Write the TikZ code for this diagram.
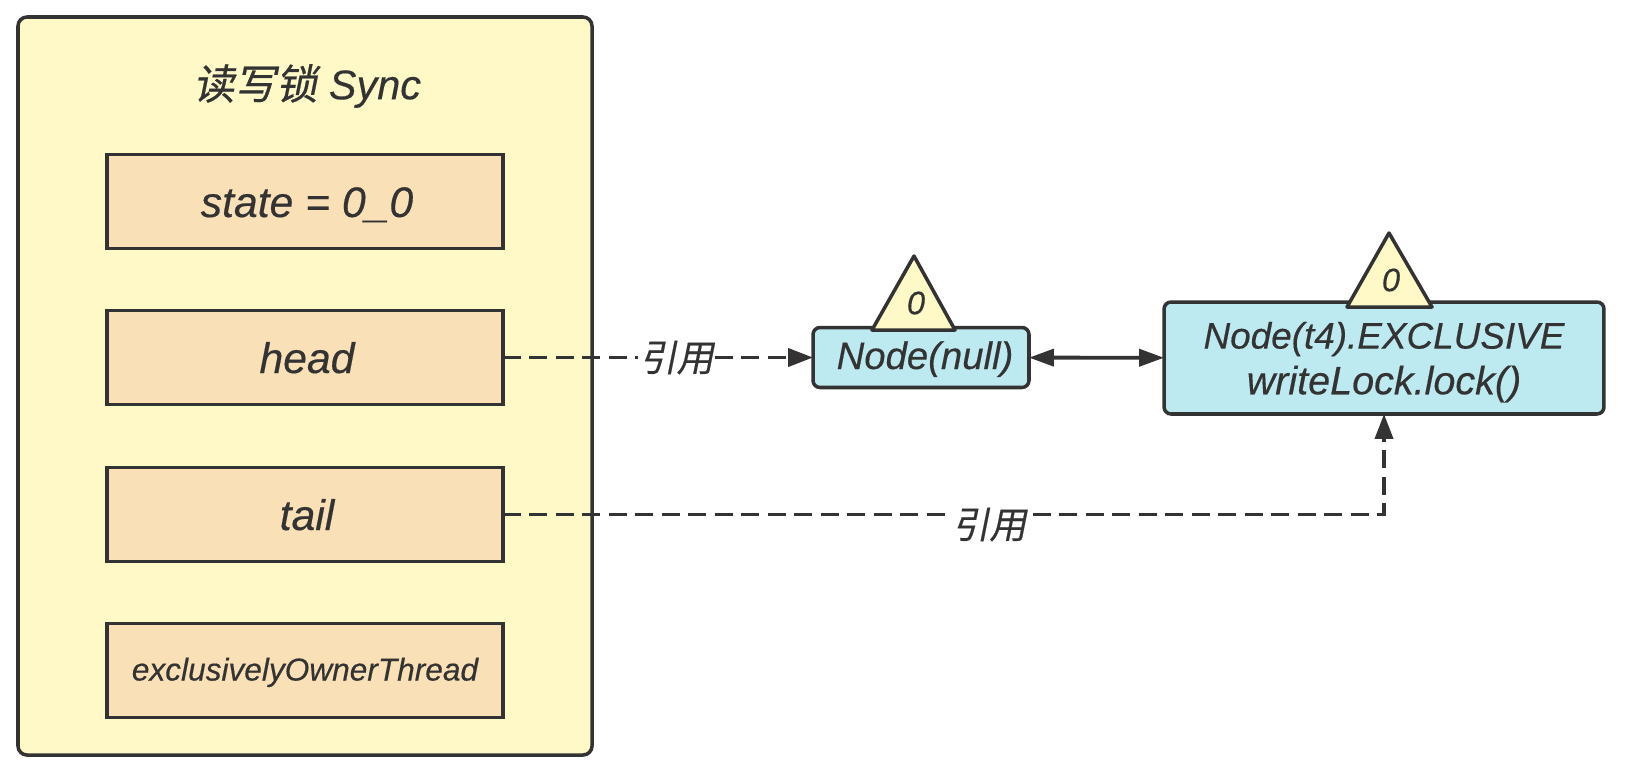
\documentclass[tikz,border=0pt]{standalone}
\usepackage{fontspec}
\setmainfont[ItalicFeatures={FakeBold=0.35}]{Liberation Sans}
\newfontfamily\cjk[FakeSlant=0.2,FakeBold=0.5]{Noto Sans CJK SC}
\usetikzlibrary{arrows.meta}
\definecolor{inkgray}{HTML}{333333}
\definecolor{lockyellow}{HTML}{FFF9C8}
\definecolor{fieldorange}{HTML}{FAE0B6}
\definecolor{queueblue}{HTML}{BDE9F0}
\newcommand{\setsize}[1]{\fontsize{#1}{26}\selectfont\itshape}
\tikzset{
    every node/.style={text=inkgray, outer sep=0pt, inner sep=0pt},
    fieldbox/.style={draw=inkgray, line width=2pt, fill=fieldorange, minimum width=7.92cm, minimum height=1.88cm, text height=0.7cm, text depth=0.08cm, font=\setsize{24.3}},
    queuebox/.style={draw=inkgray, line width=2pt, fill=queueblue, rounded corners=0.14cm, font=\setsize{21}, align=center},
    marktri/.style={draw=inkgray, line width=2pt, fill=lockyellow, line join=round},
    refline/.style={draw=inkgray, line width=2.2pt, dash pattern=on 0.36cm off 0.17cm, -{Triangle[length=0.5cm,width=0.36cm]}},
    reflabel/.style={fill=white, font=\setsize{21}\cjk, inner xsep=1pt, inner ysep=1pt}
}
\begin{document}
\begin{tikzpicture}[x=0.02cm,y=-0.02cm]
    \useasboundingbox (0,0) rectangle (1628,776.5);
    \draw[draw=inkgray, line width=2pt, fill=lockyellow, rounded corners=0.18cm] (18,17) rectangle (592,755);
    \node[font=\setsize{23.6}] (title) at (307,86) {{\cjk 读写锁} Sync};
    \foreach \name/\y/\label in {state/201.5/state = 0\_0, head/357.5/head, tail/514.5/tail}
    {
        \node[fieldbox] (\name) at (305,\y) {\hspace*{0.08cm}\label};
    }
    \node[fieldbox, font=\setsize{18}, text height=0.5cm, text depth=0.1cm] (owner) at (305,670.5) {exclusivelyOwnerThread};

    \node[queuebox, font=\setsize{21.8}, text height=0.6cm, text depth=0.14cm, minimum width=4.32cm, minimum height=1.2cm] (null) at (921,357.5) {\hspace*{0.16cm}Node(null)};
    \node[queuebox, minimum width=8.8cm, minimum height=2.24cm] (t4) at (1384,358) {\rule{0pt}{0.7cm}Node(t4).EXCLUSIVE\\\setsize{22.5}writeLock.lock()};

    \draw[marktri] (872,330) -- (914,256) -- (955,330) -- cycle;
    \node[font=\setsize{18.5}] (zeronull) at (916,303) {0};
    \draw[marktri] (1347,307) -- (1389,233) -- (1432,307) -- cycle;
    \node[font=\setsize{18.5}] (zerot4) at (1391,280) {0};

    \draw[refline] (head) -- (null) node[reflabel, pos=0.56] (refhead) {引用};
    \draw[refline] (tail) -| (t4) node[reflabel, pos=0.276, yshift=-0.2cm] (reftail) {引用};
    \draw[draw=inkgray, line width=2.2pt, {Triangle[length=0.5cm,width=0.34cm]}-{Triangle[length=0.5cm,width=0.34cm]}] (null) -- (t4);
\end{tikzpicture}
\end{document}
